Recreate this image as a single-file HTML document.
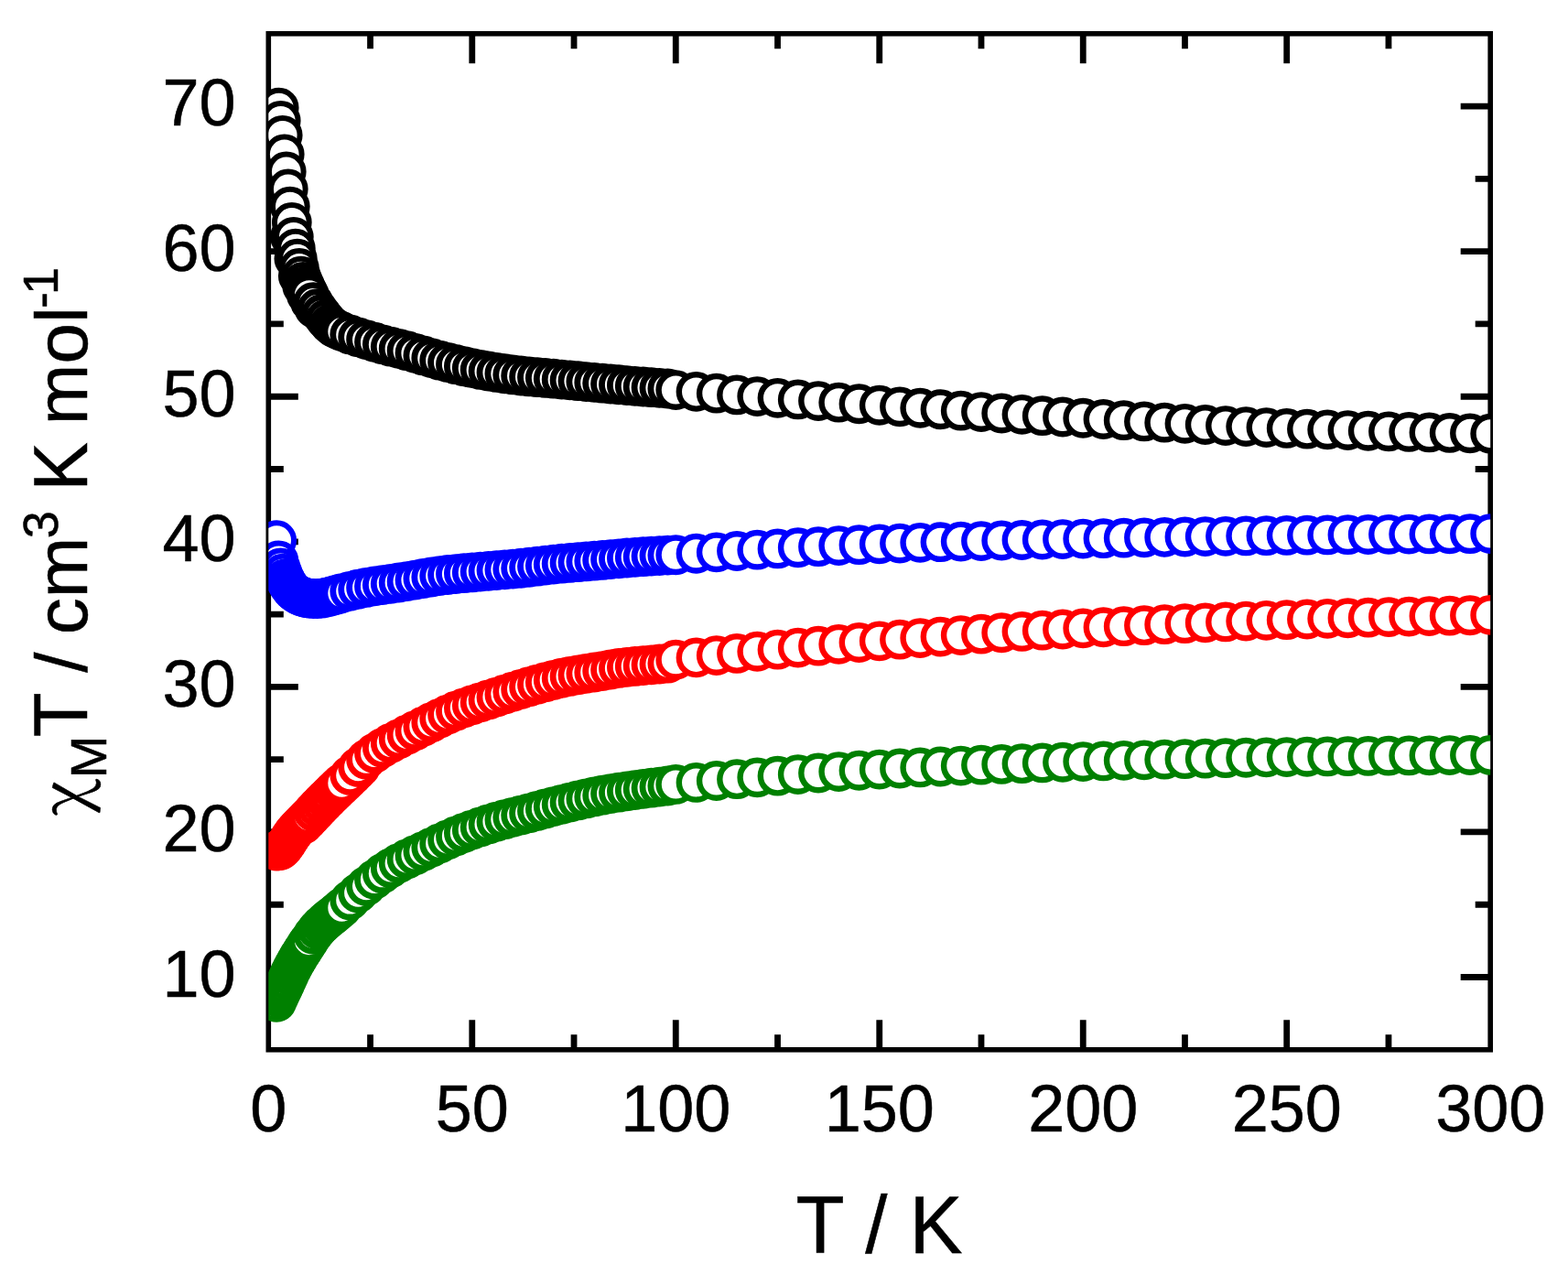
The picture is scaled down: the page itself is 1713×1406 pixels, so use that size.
<!DOCTYPE html>
<html><head><meta charset="utf-8"><title>chiMT vs T</title>
<style>
html,body{margin:0;padding:0;background:#fff;}
svg{display:block;}
svg{font-family:"Liberation Sans",Arial,sans-serif;}
text{fill:#000;stroke:#000;stroke-width:0.5px;}
</style></head><body>
<svg width="1713" height="1406" viewBox="0 0 1713 1406">
<rect width="1713" height="1406" fill="#fff"/>
<defs><filter id="b" x="-2%" y="-2%" width="104%" height="104%"><feGaussianBlur stdDeviation="0.7"/></filter><clipPath id="c"><rect x="293.3" y="36.8" width="1334.9" height="1110"/></clipPath></defs>
<rect x="293.3" y="36.8" width="1334.9" height="1110" fill="none" stroke="#000" stroke-width="5.6"/>
<path d="M404.54 1146.8v-16.5M404.54 36.8v16.5M515.78 1146.8v-32.5M515.78 36.8v32.5M627.03 1146.8v-16.5M627.03 36.8v16.5M738.27 1146.8v-32.5M738.27 36.8v32.5M849.51 1146.8v-16.5M849.51 36.8v16.5M960.75 1146.8v-32.5M960.75 36.8v32.5M1071.99 1146.8v-16.5M1071.99 36.8v16.5M1183.23 1146.8v-32.5M1183.23 36.8v32.5M1294.47 1146.8v-16.5M1294.47 36.8v16.5M1405.72 1146.8v-32.5M1405.72 36.8v32.5M1516.96 1146.8v-16.5M1516.96 36.8v16.5M293.3 1067.51h32.5M1628.2 1067.51h-32.5M293.3 988.23h16.5M1628.2 988.23h-16.5M293.3 908.94h32.5M1628.2 908.94h-32.5M293.3 829.66h16.5M1628.2 829.66h-16.5M293.3 750.37h32.5M1628.2 750.37h-32.5M293.3 671.09h16.5M1628.2 671.09h-16.5M293.3 591.8h32.5M1628.2 591.8h-32.5M293.3 512.51h16.5M1628.2 512.51h-16.5M293.3 433.23h32.5M1628.2 433.23h-32.5M293.3 353.94h16.5M1628.2 353.94h-16.5M293.3 274.66h32.5M1628.2 274.66h-32.5M293.3 195.37h16.5M1628.2 195.37h-16.5M293.3 116.09h32.5M1628.2 116.09h-32.5" fill="none" stroke="#000" stroke-width="6.8"/>
<g clip-path="url(#c)"><g filter="url(#b)" fill="#fff" stroke-width="6.4">
<g stroke="#000000" stroke-width="6"><circle cx="316.88" cy="258.8" r="18.85"/><circle cx="321.33" cy="282.59" r="18.85"/><circle cx="325.78" cy="301.61" r="18.85"/><circle cx="330.23" cy="312.81" r="18.85"/><circle cx="334.68" cy="322.02" r="18.85"/><circle cx="339.13" cy="330.16" r="18.85"/><circle cx="343.58" cy="337.15" r="18.85"/><circle cx="304.7" cy="117.67" r="18.85"/><circle cx="306.72" cy="131.94" r="18.85"/><circle cx="308.73" cy="147.8" r="18.85"/><circle cx="310.75" cy="168.41" r="18.85"/><circle cx="312.77" cy="187.44" r="18.85"/><circle cx="314.78" cy="206.47" r="18.85"/><circle cx="316.8" cy="225.5" r="18.85"/><circle cx="318.81" cy="242.94" r="18.85"/><circle cx="320.83" cy="258.8" r="18.85"/><circle cx="322.85" cy="271.49" r="18.85"/><circle cx="324.86" cy="282.59" r="18.85"/><circle cx="326.88" cy="292.95" r="18.85"/><circle cx="328.9" cy="301.61" r="18.85"/><circle cx="331.12" cy="307.76" r="18.85"/><circle cx="333.35" cy="312.81" r="18.85"/><circle cx="335.57" cy="317.47" r="18.85"/><circle cx="337.8" cy="322.02" r="18.85"/></g>
<g stroke="#000000" stroke-width="6.8"><circle cx="342.25" cy="330.16" r="18.5"/><circle cx="346.7" cy="337.15" r="18.5"/><circle cx="351.15" cy="343.23" r="18.5"/><circle cx="355.6" cy="348.99" r="18.5"/><circle cx="360.05" cy="354.09" r="18.5"/><circle cx="364.49" cy="357.69" r="18.5"/><circle cx="368.94" cy="360.13" r="18.5"/><circle cx="373.39" cy="362.06" r="18.5"/><circle cx="382.29" cy="365.45" r="18.5"/><circle cx="391.19" cy="368.35" r="18.5"/><circle cx="400.09" cy="371.07" r="18.5"/><circle cx="408.99" cy="373.77" r="18.5"/><circle cx="417.89" cy="376.32" r="18.5"/><circle cx="426.79" cy="378.67" r="18.5"/><circle cx="435.69" cy="380.88" r="18.5"/><circle cx="444.59" cy="383.22" r="18.5"/><circle cx="453.49" cy="385.78" r="18.5"/><circle cx="462.39" cy="388.46" r="18.5"/><circle cx="471.29" cy="391.13" r="18.5"/><circle cx="480.19" cy="393.64" r="18.5"/><circle cx="489.09" cy="395.94" r="18.5"/><circle cx="497.98" cy="398.15" r="18.5"/><circle cx="506.88" cy="400.26" r="18.5"/><circle cx="515.78" cy="402.22" r="18.5"/><circle cx="524.68" cy="403.97" r="18.5"/><circle cx="533.58" cy="405.52" r="18.5"/><circle cx="542.48" cy="406.95" r="18.5"/><circle cx="551.38" cy="408.26" r="18.5"/><circle cx="560.28" cy="409.44" r="18.5"/><circle cx="569.18" cy="410.49" r="18.5"/><circle cx="578.08" cy="411.4" r="18.5"/><circle cx="586.98" cy="412.21" r="18.5"/><circle cx="595.88" cy="412.96" r="18.5"/><circle cx="604.78" cy="413.72" r="18.5"/><circle cx="613.68" cy="414.53" r="18.5"/><circle cx="622.58" cy="415.37" r="18.5"/><circle cx="631.47" cy="416.21" r="18.5"/><circle cx="640.37" cy="417.06" r="18.5"/><circle cx="649.27" cy="417.88" r="18.5"/><circle cx="658.17" cy="418.69" r="18.5"/><circle cx="667.07" cy="419.48" r="18.5"/><circle cx="675.97" cy="420.27" r="18.5"/><circle cx="684.87" cy="421.03" r="18.5"/><circle cx="693.77" cy="421.78" r="18.5"/><circle cx="702.67" cy="422.49" r="18.5"/><circle cx="711.57" cy="423.18" r="18.5"/><circle cx="720.47" cy="423.86" r="18.5"/><circle cx="729.37" cy="424.51" r="18.5"/></g>
<g stroke="#000000"><circle cx="738.27" cy="426.09" r="18.7"/><circle cx="760.51" cy="427.88" r="18.7"/><circle cx="782.76" cy="429.65" r="18.7"/><circle cx="805.01" cy="431.39" r="18.7"/><circle cx="827.26" cy="433.1" r="18.7"/><circle cx="849.51" cy="434.78" r="18.7"/><circle cx="871.76" cy="436.44" r="18.7"/><circle cx="894.01" cy="438.07" r="18.7"/><circle cx="916.25" cy="439.66" r="18.7"/><circle cx="938.5" cy="441.23" r="18.7"/><circle cx="960.75" cy="442.77" r="18.7"/><circle cx="983" cy="444.28" r="18.7"/><circle cx="1005.25" cy="445.77" r="18.7"/><circle cx="1027.5" cy="447.24" r="18.7"/><circle cx="1049.74" cy="448.68" r="18.7"/><circle cx="1071.99" cy="450.1" r="18.7"/><circle cx="1094.24" cy="451.49" r="18.7"/><circle cx="1116.49" cy="452.85" r="18.7"/><circle cx="1138.74" cy="454.19" r="18.7"/><circle cx="1160.99" cy="455.49" r="18.7"/><circle cx="1183.23" cy="456.75" r="18.7"/><circle cx="1205.48" cy="457.98" r="18.7"/><circle cx="1227.73" cy="459.21" r="18.7"/><circle cx="1249.98" cy="460.45" r="18.7"/><circle cx="1272.23" cy="461.67" r="18.7"/><circle cx="1294.47" cy="462.86" r="18.7"/><circle cx="1316.72" cy="464.01" r="18.7"/><circle cx="1338.97" cy="465.1" r="18.7"/><circle cx="1361.22" cy="466.12" r="18.7"/><circle cx="1383.47" cy="467.06" r="18.7"/><circle cx="1405.72" cy="467.9" r="18.7"/><circle cx="1427.96" cy="468.65" r="18.7"/><circle cx="1450.21" cy="469.37" r="18.7"/><circle cx="1472.46" cy="470.07" r="18.7"/><circle cx="1494.71" cy="470.73" r="18.7"/><circle cx="1516.96" cy="471.35" r="18.7"/><circle cx="1539.21" cy="471.92" r="18.7"/><circle cx="1561.45" cy="472.45" r="18.7"/><circle cx="1583.7" cy="472.91" r="18.7"/><circle cx="1605.95" cy="473.32" r="18.7"/><circle cx="1628.2" cy="473.66" r="18.7"/></g>
<g stroke="#0000ff" stroke-width="6"><circle cx="302.2" cy="590.21" r="18.85"/><circle cx="304.42" cy="612.41" r="18.85"/><circle cx="306.65" cy="620.34" r="18.85"/><circle cx="308.87" cy="626.69" r="18.85"/><circle cx="311.1" cy="632.24" r="18.85"/><circle cx="313.32" cy="636.56" r="18.85"/><circle cx="315.55" cy="640.16" r="18.85"/><circle cx="317.77" cy="643.28" r="18.85"/><circle cx="320" cy="645.71" r="18.85"/><circle cx="322.22" cy="647.51" r="18.85"/><circle cx="324.45" cy="649.03" r="18.85"/><circle cx="326.67" cy="650.29" r="18.85"/><circle cx="328.9" cy="651.26" r="18.85"/><circle cx="331.12" cy="652.07" r="18.85"/><circle cx="333.35" cy="652.77" r="18.85"/><circle cx="335.57" cy="653.32" r="18.85"/><circle cx="337.8" cy="653.64" r="18.85"/></g>
<g stroke="#0000ff" stroke-width="6.8"><circle cx="342.25" cy="653.98" r="18.5"/><circle cx="346.7" cy="654.12" r="18.5"/><circle cx="351.15" cy="653.68" r="18.5"/><circle cx="355.6" cy="652.85" r="18.5"/><circle cx="360.05" cy="651.86" r="18.5"/><circle cx="364.49" cy="650.63" r="18.5"/><circle cx="368.94" cy="649.31" r="18.5"/><circle cx="373.39" cy="648.09" r="18.5"/><circle cx="382.29" cy="645.87" r="18.5"/><circle cx="391.19" cy="643.76" r="18.5"/><circle cx="400.09" cy="641.91" r="18.5"/><circle cx="408.99" cy="640.38" r="18.5"/><circle cx="417.89" cy="639.03" r="18.5"/><circle cx="426.79" cy="637.78" r="18.5"/><circle cx="435.69" cy="636.51" r="18.5"/><circle cx="444.59" cy="635.13" r="18.5"/><circle cx="453.49" cy="633.6" r="18.5"/><circle cx="462.39" cy="632.01" r="18.5"/><circle cx="471.29" cy="630.48" r="18.5"/><circle cx="480.19" cy="629.12" r="18.5"/><circle cx="489.09" cy="628.01" r="18.5"/><circle cx="497.98" cy="627.06" r="18.5"/><circle cx="506.88" cy="626.2" r="18.5"/><circle cx="515.78" cy="625.39" r="18.5"/><circle cx="524.68" cy="624.59" r="18.5"/><circle cx="533.58" cy="623.8" r="18.5"/><circle cx="542.48" cy="623.06" r="18.5"/><circle cx="551.38" cy="622.33" r="18.5"/><circle cx="560.28" cy="621.56" r="18.5"/><circle cx="569.18" cy="620.73" r="18.5"/><circle cx="578.08" cy="619.77" r="18.5"/><circle cx="586.98" cy="618.71" r="18.5"/><circle cx="595.88" cy="617.63" r="18.5"/><circle cx="604.78" cy="616.61" r="18.5"/><circle cx="613.68" cy="615.72" r="18.5"/><circle cx="622.58" cy="614.91" r="18.5"/><circle cx="631.47" cy="614.16" r="18.5"/><circle cx="640.37" cy="613.42" r="18.5"/><circle cx="649.27" cy="612.68" r="18.5"/><circle cx="658.17" cy="611.9" r="18.5"/><circle cx="667.07" cy="611.09" r="18.5"/><circle cx="675.97" cy="610.28" r="18.5"/><circle cx="684.87" cy="609.5" r="18.5"/><circle cx="693.77" cy="608.8" r="18.5"/><circle cx="702.67" cy="608.17" r="18.5"/><circle cx="711.57" cy="607.58" r="18.5"/><circle cx="720.47" cy="607.04" r="18.5"/><circle cx="729.37" cy="606.55" r="18.5"/></g>
<g stroke="#0000ff"><circle cx="738.27" cy="606.23" r="18.7"/><circle cx="760.51" cy="604.77" r="18.7"/><circle cx="782.76" cy="603.35" r="18.7"/><circle cx="805.01" cy="601.98" r="18.7"/><circle cx="827.26" cy="600.67" r="18.7"/><circle cx="849.51" cy="599.42" r="18.7"/><circle cx="871.76" cy="598.24" r="18.7"/><circle cx="894.01" cy="597.14" r="18.7"/><circle cx="916.25" cy="596.11" r="18.7"/><circle cx="938.5" cy="595.18" r="18.7"/><circle cx="960.75" cy="594.33" r="18.7"/><circle cx="983" cy="593.58" r="18.7"/><circle cx="1005.25" cy="592.87" r="18.7"/><circle cx="1027.5" cy="592.22" r="18.7"/><circle cx="1049.74" cy="591.61" r="18.7"/><circle cx="1071.99" cy="591.03" r="18.7"/><circle cx="1094.24" cy="590.49" r="18.7"/><circle cx="1116.49" cy="589.98" r="18.7"/><circle cx="1138.74" cy="589.49" r="18.7"/><circle cx="1160.99" cy="589.03" r="18.7"/><circle cx="1183.23" cy="588.58" r="18.7"/><circle cx="1205.48" cy="588.14" r="18.7"/><circle cx="1227.73" cy="587.71" r="18.7"/><circle cx="1249.98" cy="587.29" r="18.7"/><circle cx="1272.23" cy="586.88" r="18.7"/><circle cx="1294.47" cy="586.49" r="18.7"/><circle cx="1316.72" cy="586.12" r="18.7"/><circle cx="1338.97" cy="585.78" r="18.7"/><circle cx="1361.22" cy="585.45" r="18.7"/><circle cx="1383.47" cy="585.16" r="18.7"/><circle cx="1405.72" cy="584.89" r="18.7"/><circle cx="1427.96" cy="584.65" r="18.7"/><circle cx="1450.21" cy="584.42" r="18.7"/><circle cx="1472.46" cy="584.2" r="18.7"/><circle cx="1494.71" cy="583.99" r="18.7"/><circle cx="1516.96" cy="583.79" r="18.7"/><circle cx="1539.21" cy="583.61" r="18.7"/><circle cx="1561.45" cy="583.45" r="18.7"/><circle cx="1583.7" cy="583.3" r="18.7"/><circle cx="1605.95" cy="583.18" r="18.7"/><circle cx="1628.2" cy="583.08" r="18.7"/></g>
<g stroke="#ff0000" stroke-width="6"><circle cx="331.57" cy="900.62" r="18.85"/><circle cx="336.02" cy="896.08" r="18.85"/><circle cx="340.47" cy="891.33" r="18.85"/><circle cx="344.92" cy="886.56" r="18.85"/><circle cx="349.37" cy="881.84" r="18.85"/><circle cx="353.82" cy="877.23" r="18.85"/><circle cx="358.27" cy="872.76" r="18.85"/><circle cx="362.71" cy="868.39" r="18.85"/><circle cx="367.16" cy="864.07" r="18.85"/><circle cx="371.61" cy="859.79" r="18.85"/><circle cx="376.06" cy="855.54" r="18.85"/><circle cx="380.51" cy="851.34" r="18.85"/><circle cx="384.96" cy="847.1" r="18.85"/><circle cx="389.41" cy="842.64" r="18.85"/><circle cx="393.86" cy="838.05" r="18.85"/><circle cx="302.2" cy="929.56" r="18.85"/><circle cx="304.42" cy="929.33" r="18.85"/><circle cx="306.65" cy="928.76" r="18.85"/><circle cx="308.87" cy="926.9" r="18.85"/><circle cx="311.1" cy="924.01" r="18.85"/><circle cx="313.32" cy="920.9" r="18.85"/><circle cx="315.55" cy="917.32" r="18.85"/><circle cx="317.77" cy="913.72" r="18.85"/><circle cx="320" cy="910.53" r="18.85"/><circle cx="322.22" cy="907.81" r="18.85"/><circle cx="324.45" cy="905.28" r="18.85"/><circle cx="326.67" cy="902.91" r="18.85"/><circle cx="328.9" cy="900.62" r="18.85"/><circle cx="331.12" cy="898.37" r="18.85"/><circle cx="333.35" cy="896.08" r="18.85"/><circle cx="335.57" cy="893.72" r="18.85"/><circle cx="337.8" cy="891.33" r="18.85"/></g>
<g stroke="#ff0000" stroke-width="6.8"><circle cx="342.25" cy="886.56" r="18.5"/><circle cx="346.7" cy="881.84" r="18.5"/><circle cx="351.15" cy="877.23" r="18.5"/><circle cx="355.6" cy="872.76" r="18.5"/><circle cx="360.05" cy="868.39" r="18.5"/><circle cx="364.49" cy="864.07" r="18.5"/><circle cx="368.94" cy="859.79" r="18.5"/><circle cx="373.39" cy="855.54" r="18.5"/><circle cx="382.29" cy="847.1" r="18.5"/><circle cx="391.19" cy="838.05" r="18.5"/><circle cx="400.09" cy="829.66" r="18.5"/><circle cx="408.99" cy="822.92" r="18.5"/><circle cx="417.89" cy="817.06" r="18.5"/><circle cx="426.79" cy="811.94" r="18.5"/><circle cx="435.69" cy="807.36" r="18.5"/><circle cx="444.59" cy="802.75" r="18.5"/><circle cx="453.49" cy="798.14" r="18.5"/><circle cx="462.39" cy="793.67" r="18.5"/><circle cx="471.29" cy="789.21" r="18.5"/><circle cx="480.19" cy="784.82" r="18.5"/><circle cx="489.09" cy="780.62" r="18.5"/><circle cx="497.98" cy="776.77" r="18.5"/><circle cx="506.88" cy="773.36" r="18.5"/><circle cx="515.78" cy="770.24" r="18.5"/><circle cx="524.68" cy="767.31" r="18.5"/><circle cx="533.58" cy="764.44" r="18.5"/><circle cx="542.48" cy="761.55" r="18.5"/><circle cx="551.38" cy="758.61" r="18.5"/><circle cx="560.28" cy="755.72" r="18.5"/><circle cx="569.18" cy="752.91" r="18.5"/><circle cx="578.08" cy="750.25" r="18.5"/><circle cx="586.98" cy="747.72" r="18.5"/><circle cx="595.88" cy="745.25" r="18.5"/><circle cx="604.78" cy="742.91" r="18.5"/><circle cx="613.68" cy="740.77" r="18.5"/><circle cx="622.58" cy="738.9" r="18.5"/><circle cx="631.47" cy="737.3" r="18.5"/><circle cx="640.37" cy="735.86" r="18.5"/><circle cx="649.27" cy="734.48" r="18.5"/><circle cx="658.17" cy="733.07" r="18.5"/><circle cx="667.07" cy="731.49" r="18.5"/><circle cx="675.97" cy="729.91" r="18.5"/><circle cx="684.87" cy="728.78" r="18.5"/><circle cx="693.77" cy="727.94" r="18.5"/><circle cx="702.67" cy="727.13" r="18.5"/><circle cx="711.57" cy="726.3" r="18.5"/><circle cx="720.47" cy="725.48" r="18.5"/><circle cx="729.37" cy="724.68" r="18.5"/></g>
<g stroke="#ff0000"><circle cx="738.27" cy="720.72" r="18.7"/><circle cx="760.51" cy="718.38" r="18.7"/><circle cx="782.76" cy="716.11" r="18.7"/><circle cx="805.01" cy="713.89" r="18.7"/><circle cx="827.26" cy="711.73" r="18.7"/><circle cx="849.51" cy="709.64" r="18.7"/><circle cx="871.76" cy="707.61" r="18.7"/><circle cx="894.01" cy="705.67" r="18.7"/><circle cx="916.25" cy="703.79" r="18.7"/><circle cx="938.5" cy="702" r="18.7"/><circle cx="960.75" cy="700.29" r="18.7"/><circle cx="983" cy="698.66" r="18.7"/><circle cx="1005.25" cy="697.08" r="18.7"/><circle cx="1027.5" cy="695.55" r="18.7"/><circle cx="1049.74" cy="694.07" r="18.7"/><circle cx="1071.99" cy="692.65" r="18.7"/><circle cx="1094.24" cy="691.27" r="18.7"/><circle cx="1116.49" cy="689.95" r="18.7"/><circle cx="1138.74" cy="688.69" r="18.7"/><circle cx="1160.99" cy="687.48" r="18.7"/><circle cx="1183.23" cy="686.34" r="18.7"/><circle cx="1205.48" cy="685.24" r="18.7"/><circle cx="1227.73" cy="684.18" r="18.7"/><circle cx="1249.98" cy="683.16" r="18.7"/><circle cx="1272.23" cy="682.16" r="18.7"/><circle cx="1294.47" cy="681.21" r="18.7"/><circle cx="1316.72" cy="680.3" r="18.7"/><circle cx="1338.97" cy="679.43" r="18.7"/><circle cx="1361.22" cy="678.61" r="18.7"/><circle cx="1383.47" cy="677.85" r="18.7"/><circle cx="1405.72" cy="677.14" r="18.7"/><circle cx="1427.96" cy="676.48" r="18.7"/><circle cx="1450.21" cy="675.85" r="18.7"/><circle cx="1472.46" cy="675.23" r="18.7"/><circle cx="1494.71" cy="674.65" r="18.7"/><circle cx="1516.96" cy="674.09" r="18.7"/><circle cx="1539.21" cy="673.57" r="18.7"/><circle cx="1561.45" cy="673.08" r="18.7"/><circle cx="1583.7" cy="672.64" r="18.7"/><circle cx="1605.95" cy="672.23" r="18.7"/><circle cx="1628.2" cy="671.88" r="18.7"/></g>
<g stroke="#008000" stroke-width="6"><circle cx="302.2" cy="1094.79" r="18.85"/><circle cx="304.42" cy="1089.83" r="18.85"/><circle cx="306.65" cy="1084.96" r="18.85"/><circle cx="308.87" cy="1080.18" r="18.85"/><circle cx="311.1" cy="1075.44" r="18.85"/><circle cx="313.32" cy="1070.58" r="18.85"/><circle cx="315.55" cy="1065.65" r="18.85"/><circle cx="317.77" cy="1060.86" r="18.85"/><circle cx="320" cy="1056.41" r="18.85"/><circle cx="322.22" cy="1052.33" r="18.85"/><circle cx="324.45" cy="1048.45" r="18.85"/><circle cx="326.67" cy="1044.73" r="18.85"/><circle cx="328.9" cy="1041.14" r="18.85"/><circle cx="331.12" cy="1037.65" r="18.85"/><circle cx="333.35" cy="1034.21" r="18.85"/><circle cx="335.57" cy="1030.79" r="18.85"/><circle cx="337.8" cy="1027.38" r="18.85"/></g>
<g stroke="#008000" stroke-width="6.8"><circle cx="342.25" cy="1020.87" r="18.5"/><circle cx="346.7" cy="1015.19" r="18.5"/><circle cx="351.15" cy="1010.53" r="18.5"/><circle cx="355.6" cy="1006.46" r="18.5"/><circle cx="360.05" cy="1002.84" r="18.5"/><circle cx="364.49" cy="999.33" r="18.5"/><circle cx="368.94" cy="995.57" r="18.5"/><circle cx="373.39" cy="991.65" r="18.5"/><circle cx="382.29" cy="983.47" r="18.5"/><circle cx="391.19" cy="975.58" r="18.5"/><circle cx="400.09" cy="968.09" r="18.5"/><circle cx="408.99" cy="960.88" r="18.5"/><circle cx="417.89" cy="954.25" r="18.5"/><circle cx="426.79" cy="948.36" r="18.5"/><circle cx="435.69" cy="943.09" r="18.5"/><circle cx="444.59" cy="938.39" r="18.5"/><circle cx="453.49" cy="934.22" r="18.5"/><circle cx="462.39" cy="930.09" r="18.5"/><circle cx="471.29" cy="925.8" r="18.5"/><circle cx="480.19" cy="921.51" r="18.5"/><circle cx="489.09" cy="917.35" r="18.5"/><circle cx="497.98" cy="913.48" r="18.5"/><circle cx="506.88" cy="909.93" r="18.5"/><circle cx="515.78" cy="906.57" r="18.5"/><circle cx="524.68" cy="903.4" r="18.5"/><circle cx="533.58" cy="900.43" r="18.5"/><circle cx="542.48" cy="897.68" r="18.5"/><circle cx="551.38" cy="895.18" r="18.5"/><circle cx="560.28" cy="892.86" r="18.5"/><circle cx="569.18" cy="890.6" r="18.5"/><circle cx="578.08" cy="888.32" r="18.5"/><circle cx="586.98" cy="885.94" r="18.5"/><circle cx="595.88" cy="883.51" r="18.5"/><circle cx="604.78" cy="881.1" r="18.5"/><circle cx="613.68" cy="878.78" r="18.5"/><circle cx="622.58" cy="876.58" r="18.5"/><circle cx="631.47" cy="874.45" r="18.5"/><circle cx="640.37" cy="872.39" r="18.5"/><circle cx="649.27" cy="870.45" r="18.5"/><circle cx="658.17" cy="868.68" r="18.5"/><circle cx="667.07" cy="867.1" r="18.5"/><circle cx="675.97" cy="865.65" r="18.5"/><circle cx="684.87" cy="864.3" r="18.5"/><circle cx="693.77" cy="863.03" r="18.5"/><circle cx="702.67" cy="861.8" r="18.5"/><circle cx="711.57" cy="860.64" r="18.5"/><circle cx="720.47" cy="859.54" r="18.5"/><circle cx="729.37" cy="858.52" r="18.5"/></g>
<g stroke="#008000"><circle cx="738.27" cy="856.93" r="18.7"/><circle cx="760.51" cy="854.94" r="18.7"/><circle cx="782.76" cy="853.01" r="18.7"/><circle cx="805.01" cy="851.15" r="18.7"/><circle cx="827.26" cy="849.36" r="18.7"/><circle cx="849.51" cy="847.65" r="18.7"/><circle cx="871.76" cy="846.03" r="18.7"/><circle cx="894.01" cy="844.51" r="18.7"/><circle cx="916.25" cy="843.08" r="18.7"/><circle cx="938.5" cy="841.77" r="18.7"/><circle cx="960.75" cy="840.57" r="18.7"/><circle cx="983" cy="839.48" r="18.7"/><circle cx="1005.25" cy="838.46" r="18.7"/><circle cx="1027.5" cy="837.49" r="18.7"/><circle cx="1049.74" cy="836.58" r="18.7"/><circle cx="1071.99" cy="835.72" r="18.7"/><circle cx="1094.24" cy="834.91" r="18.7"/><circle cx="1116.49" cy="834.15" r="18.7"/><circle cx="1138.74" cy="833.43" r="18.7"/><circle cx="1160.99" cy="832.74" r="18.7"/><circle cx="1183.23" cy="832.09" r="18.7"/><circle cx="1205.48" cy="831.47" r="18.7"/><circle cx="1227.73" cy="830.87" r="18.7"/><circle cx="1249.98" cy="830.29" r="18.7"/><circle cx="1272.23" cy="829.72" r="18.7"/><circle cx="1294.47" cy="829.18" r="18.7"/><circle cx="1316.72" cy="828.68" r="18.7"/><circle cx="1338.97" cy="828.2" r="18.7"/><circle cx="1361.22" cy="827.77" r="18.7"/><circle cx="1383.47" cy="827.38" r="18.7"/><circle cx="1405.72" cy="827.05" r="18.7"/><circle cx="1427.96" cy="826.75" r="18.7"/><circle cx="1450.21" cy="826.46" r="18.7"/><circle cx="1472.46" cy="826.19" r="18.7"/><circle cx="1494.71" cy="825.93" r="18.7"/><circle cx="1516.96" cy="825.69" r="18.7"/><circle cx="1539.21" cy="825.47" r="18.7"/><circle cx="1561.45" cy="825.28" r="18.7"/><circle cx="1583.7" cy="825.12" r="18.7"/><circle cx="1605.95" cy="824.99" r="18.7"/><circle cx="1628.2" cy="824.9" r="18.7"/></g>
</g></g>
<g font-size="72" text-anchor="middle">
<text x="293.3" y="1236">0</text><text x="515.78" y="1236">50</text><text x="738.27" y="1236">100</text><text x="960.75" y="1236">150</text><text x="1183.23" y="1236">200</text><text x="1405.72" y="1236">250</text><text x="1628.2" y="1236">300</text>
</g>
<g font-size="72" text-anchor="end">
<text x="257.5" y="1088.81">10</text><text x="257.5" y="930.24">20</text><text x="257.5" y="771.67">30</text><text x="257.5" y="613.1">40</text><text x="257.5" y="454.53">50</text><text x="257.5" y="295.96">60</text><text x="257.5" y="137.39">70</text>
</g>
<text transform="translate(960.5,1369.3) scale(1,1.03)" font-size="87" text-anchor="middle">T / K</text>
<g>
<text transform="translate(94.8,890.7) rotate(-90)" font-size="71" font-family='"Noto Serif CJK SC","DejaVu Sans",serif'>χ</text>
<text transform="translate(115.7,850.17) rotate(-90)" font-size="56">M</text>
<text transform="translate(94.8,805.36) rotate(-90) scale(1,1.04)" font-size="80">T</text>
<text transform="translate(94.8,734.76) rotate(-90)" font-size="80">/</text>
<text transform="translate(94.8,693.28) rotate(-90)" font-size="80">cm</text>
<text transform="translate(63,588.36) rotate(-90)" font-size="54">3</text>
<text transform="translate(94.8,536.51) rotate(-90) scale(1,1.04)" font-size="80">K</text>
<text transform="translate(94.8,464.18) rotate(-90)" font-size="80">mol</text>
<text transform="translate(63,336.89) rotate(-90)" font-size="54">-</text>
<text transform="translate(63,322) rotate(-90)" font-size="54">1</text>
</g>
</svg>
</body></html>
